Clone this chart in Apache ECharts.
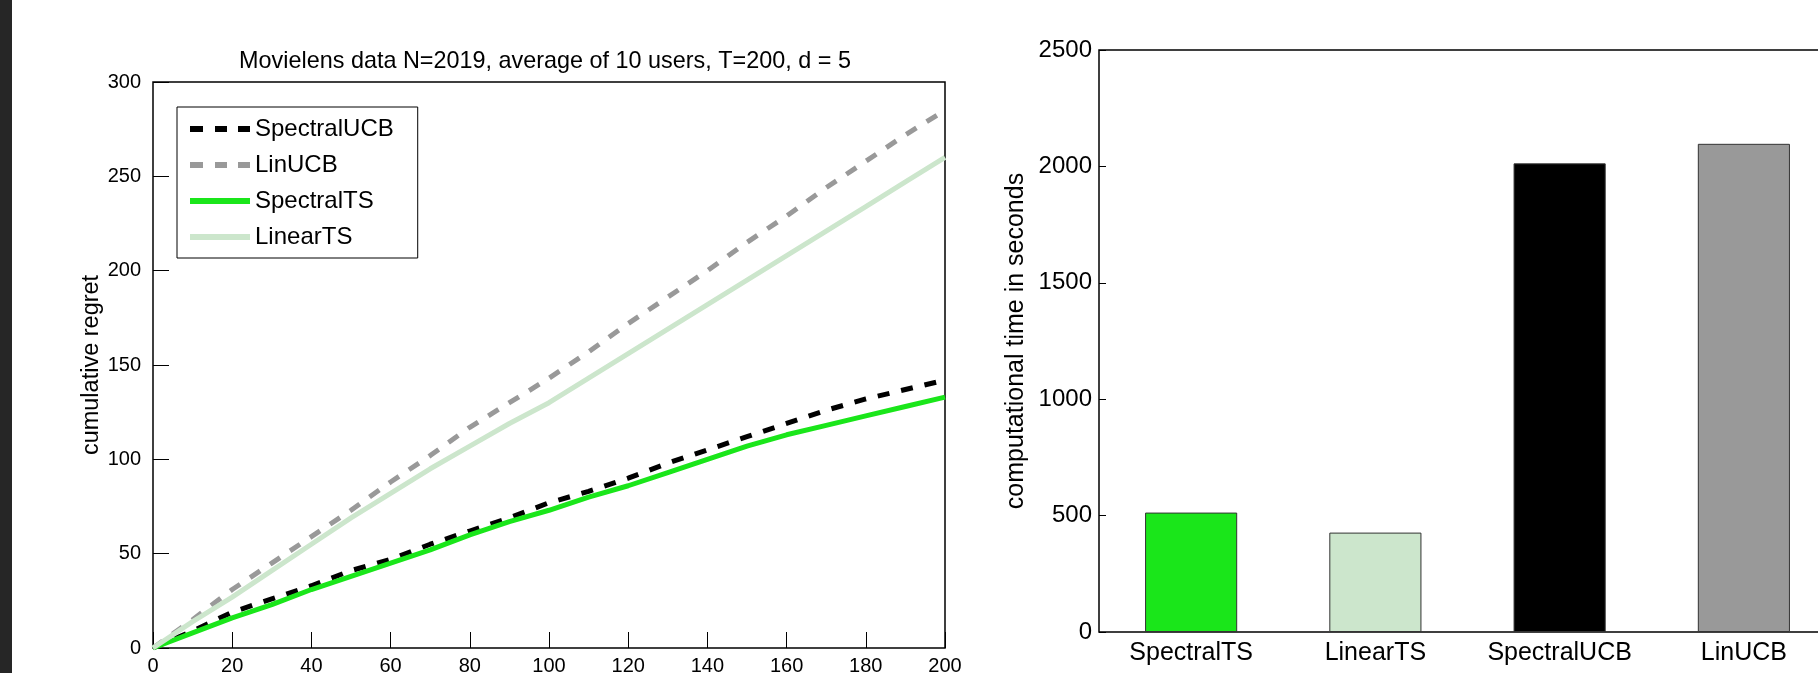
<!DOCTYPE html>
<html>
<head>
<meta charset="utf-8">
<script src="https://cdn.jsdelivr.net/npm/echarts@6/dist/echarts.min.js"></script>
<style>
html,body{margin:0;padding:0;background:#fff;}
#c{width:1818px;height:673px;}
</style>
</head>
<body>
<div id="c"></div>
<script>
// ---- Data ----
const titleText = 'Movielens data N=2019, average of 10 users, T=200, d = 5';
const steps = [0,10,20,30,40,50,60,70,80,90,100,110,120,130,140,150,160,170,180,190,200];
const spectralUCB = [0, 9, 19, 26, 33, 41, 47, 55, 62, 69, 77, 83, 90, 98, 105, 112, 119, 126, 132, 137, 142];
const linUCB      = [0, 15, 31, 45, 59, 73, 88, 102, 117, 130, 143, 157, 172, 186, 200, 215, 229, 244, 258, 272, 285];
const spectralTS  = [0, 8, 16, 23, 31, 38, 45, 52, 60, 67, 73, 80, 86, 93, 100, 107, 113, 118, 123, 128, 133];
const linearTS    = [0, 14, 27, 41, 55, 69, 82, 95, 107, 119, 130, 143, 156, 169, 182, 195, 208, 221, 234, 247, 260];

const algos = ['SpectralTS', 'LinearTS', 'SpectralUCB', 'LinUCB'];
const compTime = [513, 427, 2013, 2097];

const regretTicks = {min: 0, max: 300, interval: 50};
const stepTicks = {min: 0, max: 200, interval: 20};
const timeTicks = {min: 0, max: 2500, interval: 500};

// ---- Styles ----
const FONT = 'Liberation Sans';
const cGreen = '#1ae61a', cLight = '#cce6cc', cBlack = '#000000', cGray = '#999999';
const barColors = [cGreen, cLight, cBlack, cGray];
const dashIcon = 'path://M0,0h13v6h-13zM25,0h12v6h-12zM48,0h12v6h-12z';
const solidIcon = 'path://M0,0h60v6h-60z';

const pairs = arr => steps.map((s, i) => [s, arr[i]]);
const plain = v => String(v);

// Axes are shifted inward by the tick length so that their (outward) ticks
// end on the frame drawn by the grid border: this gives MATLAB-style inward ticks.
const TL0 = 8, TL1 = 7;
const noLine = {show: false};
const ticks = len => ({show: true, length: len, lineStyle: {color: '#000', width: 1}});
const catTicks = len => ({show: true, length: len, alignWithLabel: true, lineStyle: {color: '#000', width: 1}});

const chart = echarts.init(document.getElementById('c'), null, {renderer: 'canvas'});
chart.setOption({
  animation: false,
  backgroundColor: '#fff',
  title: {
    text: titleText, left: 540, top: 45, textAlign: 'center',
    textStyle: {fontFamily: FONT, fontSize: 23.4, fontWeight: 'normal', color: '#000'}
  },
  legend: {
    data: [
      {name: 'SpectralUCB', icon: dashIcon},
      {name: 'LinUCB', icon: dashIcon},
      {name: 'SpectralTS', icon: solidIcon},
      {name: 'LinearTS', icon: solidIcon}
    ],
    orient: 'vertical', left: 177, top: 107,
    backgroundColor: '#fff', borderColor: '#000', borderWidth: 1,
    padding: [9, 24, 8, 13],
    itemWidth: 60, itemHeight: 6, itemGap: 10,
    textStyle: {fontFamily: FONT, fontSize: 24, color: '#000', lineHeight: 26}
  },
  graphic: [
    {type: 'rect', left: 0, top: 0, shape: {width: 12, height: 673}, style: {fill: '#262626'}, z: 100}
  ],
  grid: [
    {left: 153, top: 82, width: 792, height: 566, outerBoundsMode: 'none', containLabel: false,
     show: true, borderColor: '#000', borderWidth: 1.5, backgroundColor: '#fff'},
    {left: 1099, top: 50, width: 737, height: 582, outerBoundsMode: 'none', containLabel: false,
     show: true, borderColor: '#000', borderWidth: 1.5, backgroundColor: '#fff'}
  ],
  xAxis: [
    {type: 'value', gridIndex: 0, position: 'bottom', offset: -TL0, ...stepTicks,
     axisLine: noLine, axisTick: ticks(TL0), splitLine: {show: false},
     axisLabel: {fontFamily: FONT, fontSize: 20, color: '#000', margin: 8 + TL0, formatter: plain}},
    {type: 'value', gridIndex: 0, position: 'top', offset: -TL0, ...stepTicks,
     axisLine: noLine, axisTick: ticks(TL0), splitLine: {show: false},
     axisLabel: {show: false}},
    {type: 'category', gridIndex: 1, position: 'bottom', offset: -TL1, data: algos,
     axisLine: noLine, axisTick: catTicks(TL1), splitLine: {show: false},
     axisLabel: {fontFamily: FONT, fontSize: 25, color: '#000', margin: 9 + TL1, interval: 0}},
    {type: 'category', gridIndex: 1, position: 'top', offset: -TL1, data: algos,
     axisLine: noLine, axisTick: catTicks(TL1), splitLine: {show: false},
     axisLabel: {show: false}}
  ],
  yAxis: [
    {type: 'value', gridIndex: 0, position: 'left', offset: -TL0, ...regretTicks,
     name: 'cumulative regret', nameLocation: 'middle', nameGap: 48 + TL0,
     nameTextStyle: {fontFamily: FONT, fontSize: 23.5, color: '#000'},
     axisLine: noLine, axisTick: ticks(TL0), splitLine: {show: false},
     axisLabel: {fontFamily: FONT, fontSize: 20, color: '#000', margin: 12 + TL0, formatter: plain}},
    {type: 'value', gridIndex: 0, position: 'right', offset: -TL0, ...regretTicks,
     axisLine: noLine, axisTick: ticks(TL0), splitLine: {show: false},
     axisLabel: {show: false}},
    {type: 'value', gridIndex: 1, position: 'left', offset: -TL1, ...timeTicks,
     name: 'computational time in seconds', nameLocation: 'middle', nameGap: 70 + TL1,
     nameTextStyle: {fontFamily: FONT, fontSize: 25, color: '#000'},
     axisLine: noLine, axisTick: ticks(TL1), splitLine: {show: false},
     axisLabel: {fontFamily: FONT, fontSize: 24, color: '#000', margin: 7 + TL1, formatter: plain}},
    {type: 'value', gridIndex: 1, position: 'right', offset: -TL1, ...timeTicks,
     axisLine: noLine, axisTick: ticks(TL1), splitLine: {show: false},
     axisLabel: {show: false}}
  ],
  series: [
    {name: 'SpectralUCB', type: 'line', xAxisIndex: 0, yAxisIndex: 0, data: pairs(spectralUCB),
     symbol: 'none', itemStyle: {color: cBlack}, lineStyle: {color: cBlack, width: 5, type: [12, 12]}},
    {name: 'LinUCB', type: 'line', xAxisIndex: 0, yAxisIndex: 0, data: pairs(linUCB),
     symbol: 'none', itemStyle: {color: cGray}, lineStyle: {color: cGray, width: 5, type: [12, 12]}},
    {name: 'SpectralTS', type: 'line', xAxisIndex: 0, yAxisIndex: 0, data: pairs(spectralTS),
     symbol: 'none', itemStyle: {color: cGreen}, lineStyle: {color: cGreen, width: 5}},
    {name: 'LinearTS', type: 'line', xAxisIndex: 0, yAxisIndex: 0, data: pairs(linearTS),
     symbol: 'none', itemStyle: {color: cLight}, lineStyle: {color: cLight, width: 5}},
    {name: 'time', type: 'bar', xAxisIndex: 2, yAxisIndex: 2, barWidth: '50%',
     data: compTime.map((v, i) => ({value: v, itemStyle: {color: barColors[i], borderColor: '#333', borderWidth: 1}}))}
  ]
});
</script>
</body>
</html>
